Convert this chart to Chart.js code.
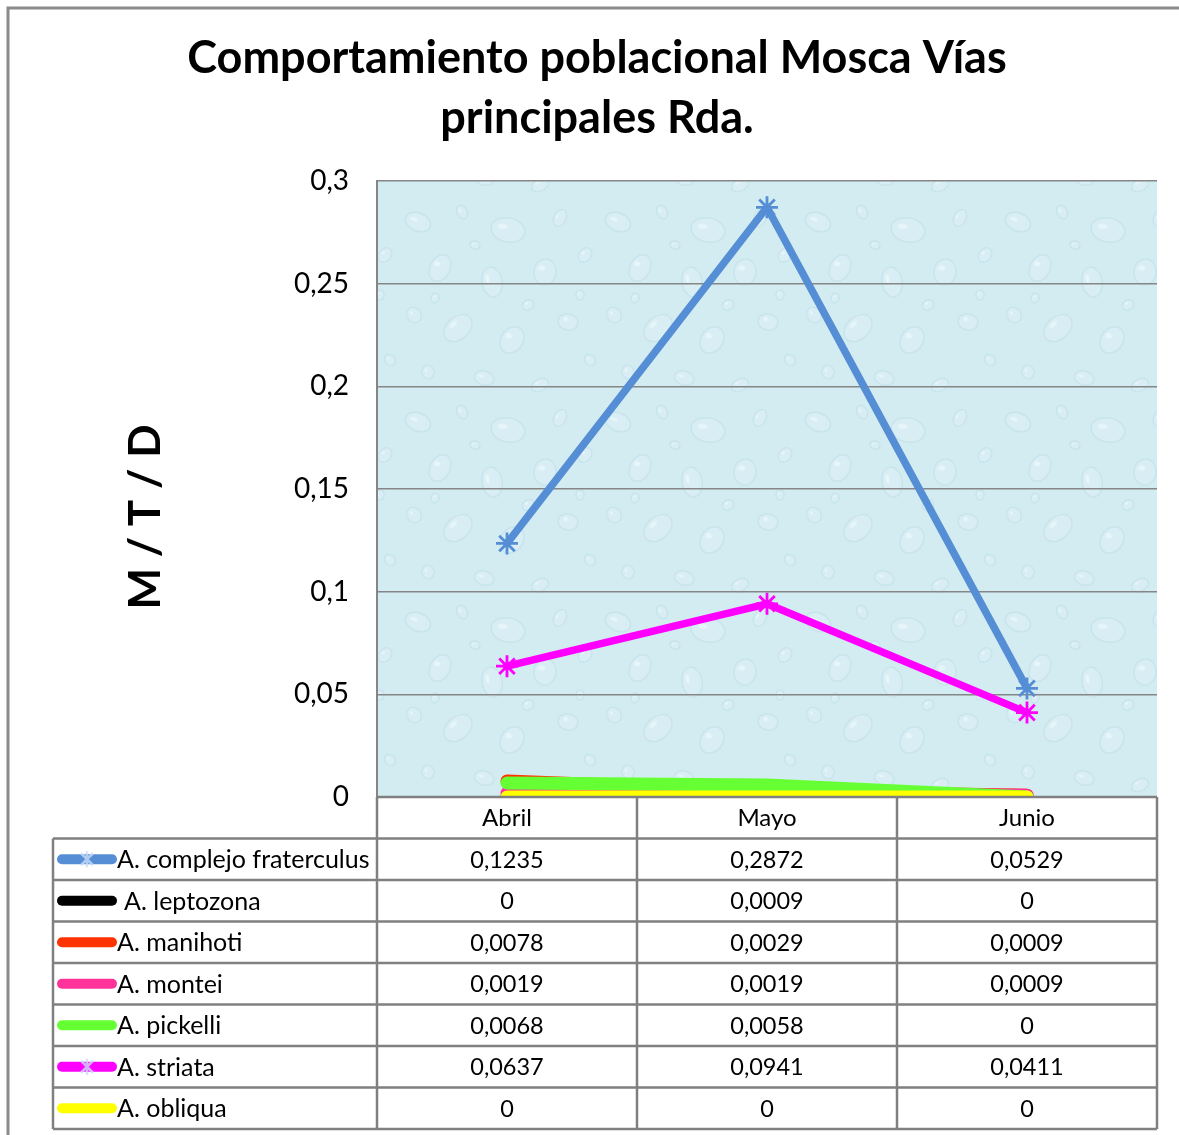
<!DOCTYPE html>
<html>
<head>
<meta charset="utf-8">
<script src="https://cdn.jsdelivr.net/npm/chart.js@4.4.1/dist/chart.umd.min.js"></script>
<style>
  html, body { margin: 0; padding: 0; background: #fff; }
  #wrap { width: 1179px; height: 1135px; position: relative; }
</style>
</head>
<body>
<div id="wrap"><canvas id="mosca"></canvas></div>
<script>
const months = ["Abril", "Mayo", "Junio"];
const seriesNames = [
  "A. complejo fraterculus",
  "A. leptozona",
  "A. manihoti",
  "A. montei",
  "A. pickelli",
  "A. striata",
  "A. obliqua",
];
const fraterculus = [0.1235, 0.2872, 0.0529];
const leptozona = [0, 0.0009, 0];
const manihoti = [0.0078, 0.0029, 0.0009];
const montei = [0.0019, 0.0019, 0.0009];
const pickelli = [0.0068, 0.0058, 0];
const striata = [0.0637, 0.0941, 0.0411];
const obliqua = [0, 0, 0];
const yTicks = [0, 0.05, 0.1, 0.15, 0.2, 0.25, 0.3];

const seriesValues = [fraterculus, leptozona, manihoti, montei, pickelli, striata, obliqua];
const seriesColors = ["#558ed5", "#000000", "#ff3300", "#ff3399", "#66ff33", "#ff00ff", "#ffff00"];
const seriesMarkers = [true, false, false, false, false, true, false];

const FONT = "Lato, 'Open Sans', sans-serif";

function fmt(v) {
  return String(v).replace(".", ",");
}

// droplet texture for the plot area
function makeTexture() {
  const c = document.createElement("canvas");
  c.width = 200;
  c.height = 200;
  const g = c.getContext("2d");
  g.fillStyle = "#d3ecf2";
  g.fillRect(0, 0, 200, 200);
  const drops = [
    [18, 22, 13, 9, 0.4], [62, 12, 7, 5, 1.1], [108, 30, 17, 12, 0.2], [160, 18, 9, 6, 2.0],
    [185, 55, 6, 8, 0.7], [40, 68, 10, 14, 0.5], [92, 82, 15, 10, 1.4], [145, 72, 11, 13, 0.1],
    [14, 115, 8, 7, 0.9], [58, 128, 16, 11, 2.4], [112, 140, 11, 14, 0.6], [168, 122, 8, 10, 1.8],
    [84, 178, 10, 7, 0.3], [28, 172, 7, 6, 1.2], [140, 185, 9, 6, 2.7], [190, 160, 6, 5, 0.8],
    [75, 45, 5, 4, 0.2], [128, 105, 5, 6, 1.0], [35, 98, 4, 5, 0.4], [180, 95, 5, 4, 1.6],
  ];
  drops.forEach(function (d) {
    g.beginPath();
    g.ellipse(d[0], d[1], d[2], d[3], d[4], 0, Math.PI * 2);
    g.fillStyle = "rgba(228, 244, 248, 0.35)";
    g.fill();
    g.lineWidth = 1.5;
    g.strokeStyle = "rgba(170, 210, 222, 0.3)";
    g.stroke();
    g.beginPath();
    g.ellipse(d[0] - d[2] * 0.3, d[1] - d[3] * 0.3, d[2] * 0.3, d[3] * 0.2, d[4], 0, Math.PI * 2);
    g.fillStyle = "rgba(245, 252, 253, 0.45)";
    g.fill();
  });
  return c;
}

const plotBackground = {
  id: "plotBackground",
  beforeDraw(chart) {
    const { ctx, chartArea } = chart;
    ctx.save();
    ctx.fillStyle = ctx.createPattern(makeTexture(), "repeat");
    ctx.fillRect(chartArea.left, chartArea.top, chartArea.right - chartArea.left, chartArea.bottom - chartArea.top);
    ctx.restore();
  },
};

function drawStar(ctx, x, y, r, color) {
  ctx.save();
  ctx.strokeStyle = color;
  ctx.lineWidth = 2.5;
  ctx.beginPath();
  ctx.moveTo(x, y - r);
  ctx.lineTo(x, y + r);
  const d = r * 0.75;
  ctx.moveTo(x - d, y - d);
  ctx.lineTo(x + d, y + d);
  ctx.moveTo(x - d, y + d);
  ctx.lineTo(x + d, y - d);
  ctx.stroke();
  ctx.restore();
}

const dataTable = {
  id: "dataTable",
  afterDraw(chart) {
    const { ctx, chartArea } = chart;
    const x = chart.scales.x;
    const top = chartArea.bottom;
    const bottom = chart.height - 6;
    const rowH = (bottom - top) / (seriesNames.length + 1);
    const tableLeft = 53;
    const step = x.getPixelForValue(1) - x.getPixelForValue(0);
    const edges = [x.left];
    months.forEach(function (m, i) {
      edges.push(x.getPixelForValue(i) + step / 2);
    });
    edges[edges.length - 1] = x.right;

    ctx.save();
    ctx.strokeStyle = "#808080";
    ctx.lineWidth = 2.5;
    ctx.beginPath();
    ctx.moveTo(x.left, top);
    ctx.lineTo(x.right, top);
    for (let r = 1; r <= seriesNames.length + 1; r++) {
      const yy = top + r * rowH;
      ctx.moveTo(tableLeft, yy);
      ctx.lineTo(x.right, yy);
    }
    ctx.moveTo(tableLeft, top + rowH);
    ctx.lineTo(tableLeft, bottom);
    edges.forEach(function (e) {
      ctx.moveTo(e, top);
      ctx.lineTo(e, bottom);
    });
    ctx.stroke();

    ctx.fillStyle = "#000";
    ctx.font = "24px " + FONT;
    ctx.textAlign = "center";
    ctx.textBaseline = "middle";
    months.forEach(function (m, i) {
      ctx.fillText(m, x.getPixelForValue(i), top + rowH / 2 + 1);
    });

    seriesNames.forEach(function (name, s) {
      const cy = top + (s + 1.5) * rowH + 1;
      ctx.font = "23.5px " + FONT;
      seriesValues[s].forEach(function (v, i) {
        ctx.textAlign = "center";
        ctx.fillText(fmt(v), x.getPixelForValue(i), cy);
      });
      // legend key
      ctx.save();
      ctx.strokeStyle = seriesColors[s];
      ctx.lineWidth = 10;
      ctx.lineCap = "round";
      ctx.beginPath();
      ctx.moveTo(62, cy - 1);
      ctx.lineTo(112, cy - 1);
      ctx.stroke();
      ctx.restore();
      if (seriesMarkers[s]) {
        drawStar(ctx, 87, cy - 1, 8, "rgba(200, 220, 250, 0.8)");
      }
      ctx.font = "25px " + FONT;
      ctx.textAlign = "left";
      ctx.fillText(name, s === 1 ? 124 : 117, cy);
    });

    // y axis title
    ctx.save();
    ctx.translate(146, (chartArea.top + chartArea.bottom) / 2 + 28);
    ctx.rotate(-Math.PI / 2);
    ctx.font = "bold 44px " + FONT;
    ctx.textAlign = "center";
    ctx.textBaseline = "middle";
    ctx.fillText("M / T / D", 0, 0);
    ctx.restore();

    // outer chart border
    ctx.strokeStyle = "#8a8a8a";
    ctx.lineWidth = 3;
    ctx.beginPath();
    ctx.moveTo(8, chart.height);
    ctx.lineTo(8, 8);
    ctx.lineTo(chart.width, 8);
    ctx.stroke();
    ctx.restore();
  },
};

const datasets = seriesNames.map(function (name, i) {
  return {
    label: name,
    data: seriesValues[i],
    borderColor: seriesColors[i],
    backgroundColor: seriesColors[i],
    borderWidth: seriesMarkers[i] ? 7.5 : 13,
    borderCapStyle: "round",
    borderJoinStyle: "round",
    pointStyle: seriesMarkers[i] ? "star" : false,
    pointRadius: seriesMarkers[i] ? 11 : 0,
    pointBorderWidth: 2.8,
    pointBorderColor: seriesColors[i],
    tension: 0,
    order: seriesNames.length - i,
    clip: { left: 20, top: 20, right: 20, bottom: 1 },
  };
});

new Chart(document.getElementById("mosca"), {
  type: "line",
  data: { labels: months, datasets: datasets },
  options: {
    responsive: true,
    maintainAspectRatio: false,
    animation: false,
    layout: { padding: { left: 15, right: 0, top: 0, bottom: 0 } },
    plugins: {
      legend: { display: false },
      tooltip: { enabled: false },
      title: {
        display: true,
        text: ["Comportamiento poblacional Mosca Vías", "principales Rda."],
        color: "#000",
        font: { family: FONT, size: 45, weight: "bold", lineHeight: 60 / 45 },
        padding: { top: 28, bottom: 33 },
      },
    },
    scales: {
      x: {
        type: "category",
        offset: true,
        grid: { display: false },
        border: { display: false },
        ticks: { display: false },
        afterFit: function (axis) { axis.height = 338; },
      },
      y: {
        min: 0,
        max: 0.3,
        afterBuildTicks: function (axis) {
          axis.ticks = yTicks.map(function (v) { return { value: v }; });
        },
        ticks: {
          color: "#000",
          padding: 28,
          font: { family: FONT, size: 28 },
          callback: function (v) { return fmt(+v.toFixed(2)); },
        },
        grid: { color: "#868686", lineWidth: 1.5, drawTicks: false },
        border: { color: "#868686", width: 2 },
        afterFit: function (axis) { axis.width = 362; },
      },
      yRight: {
        position: "right",
        display: true,
        min: 0,
        max: 0.3,
        grid: { display: false },
        border: { display: false },
        ticks: { display: false },
        afterFit: function (axis) { axis.width = 22; },
      },
    },
  },
  plugins: [plotBackground, dataTable],
});
</script>
</body>
</html>
